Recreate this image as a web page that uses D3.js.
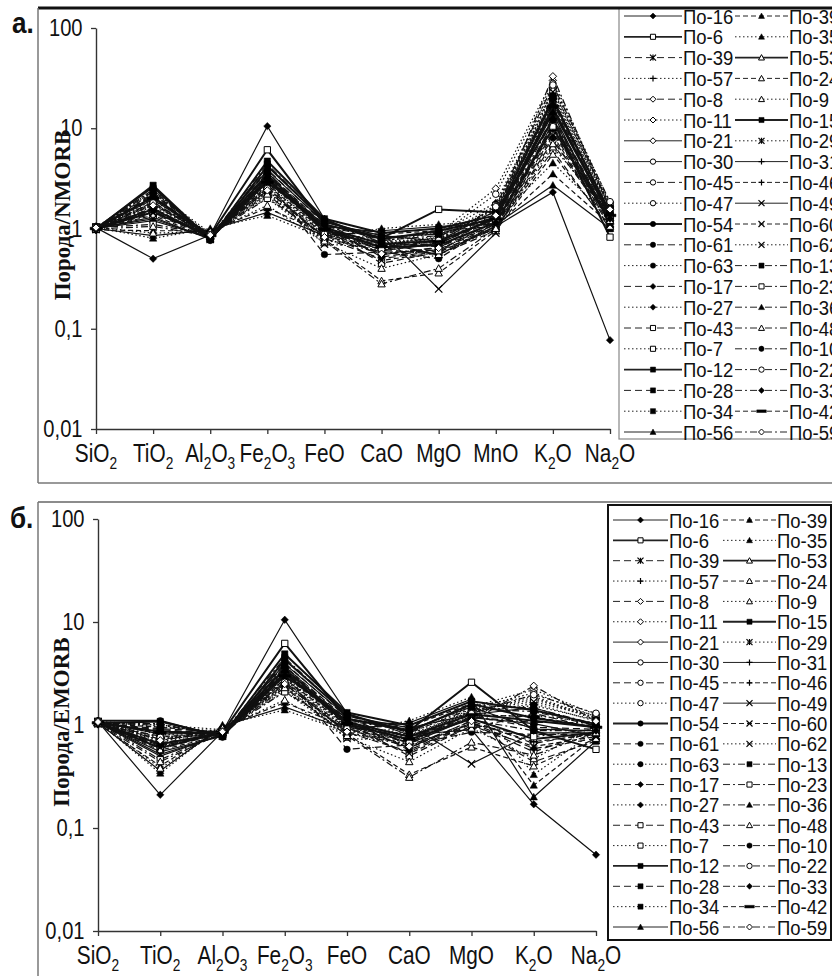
<!DOCTYPE html>
<html>
<head>
<meta charset="utf-8">
<script src="https://cdn.jsdelivr.net/npm/d3@7"></script>
<style>
  body { margin: 0; background: #fff; }
  svg { display: block; }
</style>
</head>
<body>
<svg id="chart" width="832" height="976"></svg>
<script>
var categoriesA = ["SiO2", "TiO2", "Al2O3", "Fe2O3", "FeO", "CaO", "MgO", "MnO", "K2O", "Na2O"];
var categoriesB = ["SiO2", "TiO2", "Al2O3", "Fe2O3", "FeO", "CaO", "MgO", "K2O", "Na2O"];
var yTicks = [0.01, 0.1, 1, 10, 100];
var yTickLabels = ["0,01", "0,1", "1", "10", "100"];

var samples = ["По-16", "По-6", "По-39", "По-57", "По-8", "По-11", "По-21", "По-30", "По-45", "По-47",
  "По-54", "По-61", "По-63", "По-17", "По-27", "По-43", "По-7", "По-12", "По-28", "По-34", "По-56",
  "По-39", "По-35", "По-53", "По-24", "По-9", "По-15", "По-29", "По-31", "По-46", "По-49",
  "По-60", "По-62", "По-13", "По-23", "По-36", "По-48", "По-10", "По-22", "По-33", "По-42", "По-59"];

// rock / NMORB, one row per sample, columns follow categoriesA
var nmorb = [
  [1.02, 0.50, 0.86, 10.5, 1.25, 0.72, 0.55, 1.05, 2.3, 0.077],
  [1.00, 1.45, 0.85, 6.1, 1.10, 0.80, 1.55, 1.45, 12.0, 0.82],
  [0.98, 2.10, 0.78, 3.2, 0.95, 0.62, 0.55, 0.95, 18.0, 1.30],
  [1.05, 1.80, 0.84, 2.6, 0.90, 0.70, 0.80, 1.20, 25.0, 1.60],
  [0.97, 1.60, 0.80, 3.5, 1.00, 0.55, 0.65, 1.10, 9.0, 1.20],
  [1.03, 2.40, 0.90, 2.2, 0.85, 0.75, 0.90, 2.50, 30.0, 1.80],
  [1.00, 1.30, 0.78, 2.9, 1.05, 0.60, 0.70, 1.30, 14.0, 1.10],
  [1.01, 1.95, 0.83, 3.8, 1.15, 0.85, 0.75, 1.50, 20.0, 1.40],
  [0.99, 2.20, 0.86, 2.4, 0.80, 0.50, 0.60, 1.00, 7.5, 1.25],
  [1.04, 1.70, 0.92, 2.0, 0.75, 0.68, 0.85, 2.20, 28.0, 1.70],
  [1.00, 2.60, 0.76, 4.2, 1.20, 0.78, 0.95, 1.25, 16.0, 1.35],
  [0.98, 1.50, 0.81, 3.0, 0.55, 0.58, 0.50, 1.15, 11.0, 1.15],
  [1.02, 2.30, 0.87, 2.7, 0.92, 0.72, 0.78, 1.60, 22.0, 1.55],
  [0.96, 1.85, 0.79, 3.6, 1.08, 0.52, 0.62, 1.05, 8.0, 1.05],
  [1.05, 2.00, 0.85, 2.3, 0.88, 0.80, 0.90, 1.80, 26.0, 1.65],
  [1.00, 1.40, 0.83, 3.3, 1.00, 0.45, 0.58, 1.00, 6.0, 1.00],
  [1.03, 1.75, 0.88, 2.5, 0.82, 0.66, 0.82, 1.70, 24.0, 1.75],
  [0.99, 2.70, 0.78, 4.7, 1.25, 0.90, 1.00, 1.35, 19.0, 1.45],
  [0.98, 2.15, 0.82, 3.9, 1.12, 0.62, 0.72, 1.20, 13.0, 1.30],
  [1.04, 1.90, 0.86, 2.8, 0.95, 0.74, 0.80, 1.55, 21.0, 1.60],
  [1.00, 0.85, 0.97, 1.45, 0.85, 0.95, 1.05, 1.10, 2.7, 1.00],
  [0.97, 0.95, 0.95, 1.6, 0.90, 0.88, 0.95, 1.05, 3.5, 1.10],
  [1.02, 0.80, 1.00, 1.35, 0.80, 1.00, 1.10, 1.20, 4.5, 1.25],
  [1.00, 1.55, 0.84, 3.1, 0.98, 0.65, 0.68, 1.15, 10.0, 1.20],
  [0.99, 1.35, 0.80, 2.6, 0.78, 0.30, 0.36, 0.95, 5.5, 1.05],
  [1.03, 0.90, 0.93, 1.7, 0.72, 0.40, 0.55, 1.00, 6.5, 1.40],
  [1.00, 2.05, 0.84, 3.4, 1.02, 0.70, 0.75, 1.25, 15.0, 1.35],
  [1.02, 1.65, 0.86, 2.1, 0.78, 0.60, 0.72, 1.40, 17.0, 1.50],
  [1.00, 1.20, 0.81, 3.0, 1.10, 0.82, 0.88, 1.30, 12.5, 1.25],
  [0.98, 1.75, 0.83, 2.7, 0.95, 0.55, 0.62, 1.10, 9.5, 1.15],
  [1.01, 1.25, 0.80, 2.9, 1.05, 0.92, 0.25, 0.90, 11.5, 1.20],
  [0.99, 2.25, 0.85, 3.7, 0.90, 0.48, 0.58, 1.05, 8.5, 1.10],
  [1.03, 1.45, 0.88, 2.3, 0.70, 0.64, 0.82, 1.60, 23.0, 1.70],
  [1.00, 2.35, 0.83, 4.4, 1.18, 0.76, 0.85, 1.30, 18.5, 1.40],
  [1.02, 1.10, 0.86, 2.0, 0.85, 0.58, 0.60, 1.20, 10.5, 1.30],
  [1.01, 1.60, 0.82, 3.3, 0.92, 0.68, 0.70, 1.35, 14.5, 1.50],
  [0.99, 1.05, 0.84, 2.2, 0.75, 0.28, 0.40, 1.00, 7.0, 1.20],
  [1.00, 2.45, 0.77, 3.6, 1.05, 0.80, 0.92, 1.45, 20.0, 1.45],
  [1.03, 1.80, 0.87, 2.5, 0.88, 0.62, 0.76, 1.65, 27.0, 1.85],
  [0.98, 1.50, 0.82, 3.2, 1.00, 0.72, 0.66, 1.15, 12.0, 1.25],
  [1.00, 2.00, 0.85, 2.9, 0.98, 0.66, 0.74, 1.25, 16.5, 1.35],
  [1.02, 1.70, 0.86, 2.4, 0.82, 0.56, 0.64, 1.35, 33.0, 1.55]
];

// rock / EMORB, one row per sample, columns follow categoriesB
var emorb = [
  [1.08, 0.21, 0.86, 10.5, 1.30, 0.80, 0.90, 0.17, 0.055],
  [1.05, 0.60, 0.85, 6.2, 1.15, 0.88, 2.60, 0.88, 0.58],
  [1.03, 0.88, 0.78, 3.3, 1.00, 0.68, 0.92, 1.30, 0.92],
  [1.10, 0.75, 0.84, 2.7, 0.95, 0.78, 1.35, 1.85, 1.12],
  [1.02, 0.67, 0.80, 3.6, 1.05, 0.60, 1.10, 0.66, 0.85],
  [1.08, 1.00, 0.90, 2.3, 0.90, 0.83, 1.50, 2.20, 1.26],
  [1.05, 0.55, 0.78, 3.0, 1.10, 0.66, 1.18, 1.03, 0.78],
  [1.06, 0.82, 0.83, 3.9, 1.22, 0.94, 1.27, 1.47, 0.98],
  [1.04, 0.92, 0.86, 2.5, 0.85, 0.55, 1.02, 0.55, 0.88],
  [1.09, 0.71, 0.92, 2.1, 0.80, 0.75, 1.44, 2.05, 1.20],
  [1.10, 1.10, 0.76, 4.3, 1.27, 0.86, 1.60, 1.17, 0.95],
  [1.03, 0.63, 0.81, 3.1, 0.58, 0.64, 0.85, 0.81, 0.81],
  [1.07, 0.96, 0.87, 2.8, 0.97, 0.79, 1.32, 1.61, 1.09],
  [1.01, 0.78, 0.79, 3.7, 1.14, 0.57, 1.05, 0.59, 0.74],
  [1.10, 0.84, 0.85, 2.4, 0.93, 0.88, 1.52, 1.90, 1.16],
  [1.05, 0.59, 0.83, 3.4, 1.05, 0.50, 0.98, 0.44, 0.70],
  [1.08, 0.73, 0.88, 2.6, 0.87, 0.73, 1.39, 1.76, 1.23],
  [1.04, 1.08, 0.78, 4.9, 1.32, 0.99, 1.70, 1.39, 1.02],
  [1.03, 0.90, 0.82, 4.0, 1.18, 0.68, 1.22, 0.95, 0.91],
  [1.09, 0.80, 0.86, 2.9, 1.00, 0.81, 1.36, 1.54, 1.12],
  [1.05, 0.36, 0.97, 1.5, 0.90, 1.05, 1.78, 0.20, 0.70],
  [1.02, 0.40, 0.95, 1.65, 0.95, 0.97, 1.61, 0.26, 0.77],
  [1.07, 0.34, 1.00, 1.4, 0.85, 1.10, 1.87, 0.33, 0.88],
  [1.05, 0.65, 0.84, 3.2, 1.03, 0.72, 1.15, 0.73, 0.84],
  [1.04, 0.57, 0.80, 2.7, 0.82, 0.33, 0.61, 0.40, 0.74],
  [1.08, 0.38, 0.93, 1.75, 0.76, 0.44, 0.93, 0.47, 0.98],
  [1.05, 0.86, 0.84, 3.5, 1.07, 0.77, 1.27, 1.10, 0.95],
  [1.07, 0.69, 0.86, 2.2, 0.82, 0.66, 1.22, 1.24, 1.05],
  [1.05, 0.50, 0.81, 3.1, 1.16, 0.90, 1.50, 0.91, 0.88],
  [1.03, 0.73, 0.83, 2.8, 1.00, 0.60, 1.05, 0.69, 0.81],
  [1.06, 0.52, 0.80, 3.0, 1.10, 1.01, 0.42, 0.84, 0.84],
  [1.04, 0.95, 0.85, 3.8, 0.95, 0.53, 0.98, 0.62, 0.77],
  [1.08, 0.61, 0.88, 2.4, 0.74, 0.70, 1.39, 1.68, 1.19],
  [1.05, 0.99, 0.83, 4.5, 1.24, 0.84, 1.44, 1.35, 0.98],
  [1.07, 0.46, 0.86, 2.1, 0.90, 0.64, 1.02, 0.77, 0.91],
  [1.06, 0.67, 0.82, 3.4, 0.97, 0.75, 1.19, 1.06, 1.05],
  [1.04, 0.44, 0.84, 2.3, 0.79, 0.31, 0.68, 0.51, 0.84],
  [1.05, 1.03, 0.77, 3.7, 1.10, 0.88, 1.56, 1.46, 1.02],
  [1.08, 0.76, 0.87, 2.6, 0.92, 0.68, 1.29, 1.97, 1.30],
  [1.03, 0.63, 0.82, 3.3, 1.05, 0.79, 1.12, 0.88, 0.88],
  [1.05, 0.84, 0.85, 3.0, 1.03, 0.73, 1.26, 1.20, 0.95],
  [1.07, 0.71, 0.86, 2.5, 0.86, 0.62, 1.09, 2.40, 1.09]
];

// line type + marker of each sample (same order as samples)
var looks = [
  ["solid", "diamondF"], ["bold", "squareO"], ["long", "star"], ["dot", "plus"], ["long", "diamondO"],
  ["dot", "diamondO"], ["solid", "diamondO"], ["solid", "circleO"], ["long", "circleO"], ["dot", "circleO"],
  ["bold", "circleF"], ["long", "circleF"], ["dot", "circleF"], ["long", "diamondF"], ["dot", "diamondF"],
  ["long", "squareO"], ["dot", "squareO"], ["bold", "squareF"], ["long", "squareF"], ["dot", "squareF"],
  ["solid", "triangleF"],
  ["dash", "triangleF"], ["dot", "triangleF"], ["bold", "triangleO"], ["dash", "triangleO"], ["dot", "triangleO"],
  ["bold", "squareF"], ["dot", "star"], ["solid", "plus"], ["dash", "plus"], ["solid", "cross"],
  ["dash", "cross"], ["dot", "cross"], ["dashdot", "squareF"], ["dashdot", "squareO"], ["dashdot", "triangleF"],
  ["dashdot", "triangleO"], ["dashdot", "circleF"], ["dashdot", "circleO"], ["dashdot", "diamondF"], ["dash", "bar"],
  ["dashdot", "diamondO"]
];

var dashes = {solid: null, bold: null, long: "7,4", dot: "1.5,2.5", dash: "5,3", dashdot: "7,3,2,3"},
    widths = {solid: 1.2, bold: 2, long: 1.2, dot: 1.2, dash: 1.2, dashdot: 1.2},
    sans = "'Liberation Sans', Arial, sans-serif",
    serif = "'Liberation Serif', 'Times New Roman', serif",
    narrow = 0.8;

var svg = d3.select("#chart");

function markerPath(kind, r) {
  var k = kind.replace(/[FO]$/, "");
  switch (k) {
    case "diamond": return "M0," + (-r) + "L" + r + ",0L0," + r + "L" + (-r) + ",0Z";
    case "square": return "M" + (-r * 0.85) + "," + (-r * 0.85) + "h" + (1.7 * r) + "v" + (1.7 * r) + "h" + (-1.7 * r) + "Z";
    case "circle": return d3.symbol(d3.symbolCircle, Math.PI * r * r * 0.8)();
    case "triangle": return "M0," + (-r) + "L" + r + "," + (r * 0.8) + "L" + (-r) + "," + (r * 0.8) + "Z";
    case "plus": return "M" + (-r) + ",0H" + r + "M0," + (-r) + "V" + r;
    case "cross": return "M" + (-r) + "," + (-r) + "L" + r + "," + r + "M" + (-r) + "," + r + "L" + r + "," + (-r);
    case "star": return "M" + (-r) + "," + (-r) + "L" + r + "," + r + "M" + (-r) + "," + r + "L" + r + "," + (-r) + "M0," + (-r) + "V" + r;
    case "bar": return "M" + (-r * 1.6) + ",-1.3H" + (r * 1.6) + "V1.3H" + (-r * 1.6) + "Z";
  }
}

function styleMarker(sel, kind) {
  if (/F$/.test(kind) || kind === "bar")
    sel.attr("fill", "#000").attr("stroke", "#000").attr("stroke-width", 0.5);
  else if (/O$/.test(kind))
    sel.attr("fill", "#fff").attr("stroke", "#000").attr("stroke-width", 1);
  else
    sel.attr("fill", "none").attr("stroke", "#000").attr("stroke-width", 1.2);
}

// text with digits as subscripts, squeezed to look like a narrow face
function chemLabel(g, x, y, str, size) {
  var t = g.append("text")
      .attr("transform", "translate(" + x + "," + y + ") scale(" + narrow + ",1)")
      .attr("text-anchor", "middle")
      .attr("font-family", sans)
      .attr("font-size", size)
      .attr("fill", "#111");
  var parts = str.split(/(\d)/).filter(function(s) { return s.length; }),
      low = false;
  parts.forEach(function(p) {
    var isSub = /\d/.test(p),
        span = t.append("tspan").text(p);
    if (isSub) { span.attr("font-size", size * 0.66).attr("dy", low ? 0 : 7); low = true; }
    else { if (low) span.attr("dy", -7); low = false; }
  });
}

function drawPanel(p) {
  var g = svg.append("g");

  // legend box under the frame line
  g.append("rect")
    .attr("x", p.legend.x).attr("y", p.legend.y)
    .attr("width", p.legend.w).attr("height", p.legend.h)
    .attr("fill", "#fff").attr("stroke", p.legend.stroke).attr("stroke-width", p.legend.sw);

  // outer frame
  g.append("line").attr("x1", 38).attr("x2", 832).attr("y1", p.frameTop).attr("y2", p.frameTop)
    .attr("stroke", p.topColor).attr("stroke-width", p.topWidth);
  g.append("line").attr("x1", 38).attr("x2", 38).attr("y1", p.frameTop).attr("y2", p.frameBottom)
    .attr("stroke", "#777").attr("stroke-width", 1.5);
  if (p.frameBottom < 976)
    g.append("line").attr("x1", 38).attr("x2", 832).attr("y1", p.frameBottom).attr("y2", p.frameBottom)
      .attr("stroke", "#777").attr("stroke-width", 1.5);

  g.append("text")
    .attr("transform", "translate(" + p.tagX + "," + p.tagY + ") scale(0.9,1)")
    .attr("font-family", sans).attr("font-weight", "bold").attr("font-size", 29)
    .attr("fill", "#111").text(p.tag);

  var x = d3.scalePoint().domain(p.cats).range([p.x0, p.x1]).padding(0),
      y = d3.scaleLog().domain([0.01, 100]).range([p.yBottom, p.yTop]);

  var yAxis = g.append("g").attr("transform", "translate(" + p.x0 + ",0)")
      .call(d3.axisLeft(y).tickValues(yTicks).tickFormat(function(d, i) { return yTickLabels[i]; })
        .tickSize(5).tickSizeOuter(0).tickPadding(11));
  yAxis.selectAll("text").attr("font-family", sans).attr("font-size", 24).attr("fill", "#111")
    .attr("transform", "scale(0.84,1)");

  var xAxis = g.append("g").attr("transform", "translate(0," + p.yBottom + ")")
      .call(d3.axisBottom(x).tickSize(5).tickSizeOuter(0).tickFormat(""));

  [yAxis, xAxis].forEach(function(a) {
    a.select(".domain").attr("stroke", "#333").attr("stroke-width", 1.4);
    a.selectAll(".tick line").attr("stroke", "#333").attr("stroke-width", 1.3);
  });

  p.cats.forEach(function(c) { chemLabel(g, x(c), p.yBottom + 33, c, 26); });

  g.append("text")
    .attr("transform", "translate(" + p.titleX + "," + p.titleY + ") rotate(-90)")
    .attr("text-anchor", "middle").attr("font-family", serif).attr("font-weight", "bold")
    .attr("font-size", 23).attr("fill", "#111").text(p.title);

  var line = d3.line().x(function(d, i) { return x(p.cats[i]); }).y(function(d) { return y(d); }),
      plot = g.append("g");

  p.values.forEach(function(row, s) {
    var look = looks[s];
    plot.append("path").datum(row).attr("d", line)
      .attr("fill", "none").attr("stroke", "#111")
      .attr("stroke-width", widths[look[0]])
      .attr("stroke-dasharray", dashes[look[0]]);
    plot.append("g").selectAll("path").data(row).join("path")
      .attr("transform", function(d, i) { return "translate(" + x(p.cats[i]) + "," + y(d) + ")"; })
      .attr("d", markerPath(look[1], 3.7))
      .call(styleMarker, look[1]);
  });

  // legend entries, two columns
  var lg = g.append("g");
  samples.forEach(function(name, s) {
    var col = s < 21 ? p.legend.cols[0] : p.legend.cols[1],
        row = s % 21,
        ry = p.legend.rowY + row * p.legend.rowH,
        look = looks[s];
    lg.append("line").attr("x1", col.x).attr("x2", col.x + col.len).attr("y1", ry).attr("y2", ry)
      .attr("stroke", "#222").attr("stroke-width", widths[look[0]] - 0.2)
      .attr("stroke-dasharray", dashes[look[0]]);
    lg.append("path").attr("transform", "translate(" + (col.x + col.len / 2) + "," + ry + ")")
      .attr("d", markerPath(look[1], 3)).call(styleMarker, look[1]);
    lg.append("text")
      .attr("transform", "translate(" + (col.x + col.len + 1) + "," + (ry + 7.5) + ") scale(0.88,1)")
      .attr("font-family", sans).attr("font-size", 21).attr("fill", "#111").text(name);
  });
}

drawPanel({
  tag: "а.", tagX: 12, tagY: 33,
  frameTop: 8, frameBottom: 483, topColor: "#111", topWidth: 3,
  cats: categoriesA, values: nmorb,
  x0: 96, x1: 610, yTop: 28, yBottom: 429,
  title: "Порода/NMORB", titleX: 70, titleY: 215,
  legend: {x: 619, y: 8, w: 260, h: 431, stroke: "#888", sw: 1.2, rowY: 16, rowH: 20.8,
           cols: [{x: 624, len: 58}, {x: 735, len: 53}]}
});

drawPanel({
  tag: "б.", tagX: 10, tagY: 528,
  frameTop: 502, frameBottom: 980, topColor: "#666", topWidth: 1.5,
  cats: categoriesB, values: emorb,
  x0: 98, x1: 596, yTop: 519, yBottom: 931,
  title: "Порода/EMORB", titleX: 69, titleY: 722,
  legend: {x: 608, y: 505, w: 223, h: 435, stroke: "#111", sw: 2, rowY: 520, rowH: 20.35,
           cols: [{x: 613, len: 55}, {x: 723, len: 53}]}
});
</script>
</body>
</html>
